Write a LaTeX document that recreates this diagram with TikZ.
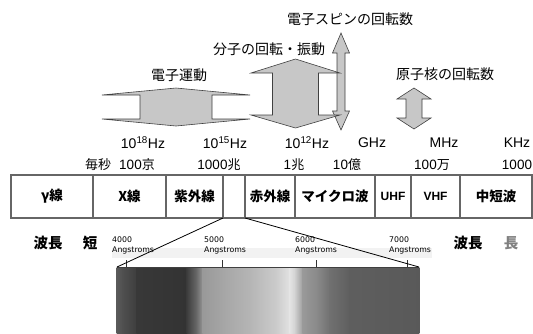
\documentclass[tikz,border=0pt]{standalone}
\usepackage{fontspec}
\setmainfont{Liberation Sans}
\newfontfamily\jp{Noto Sans CJK JP}
\newfontfamily\dv{DejaVu Sans}
\newcommand\vdarrow[7]{% cx, head half width, shaft half width, top apex, top base, bottom base, bottom apex
  \draw[arr] (#1,#4) -- ({#1+#2},#5) -- ({#1+#3},#5) -- ({#1+#3},#6) -- ({#1+#2},#6) -- (#1,#7)
    -- ({#1-#2},#6) -- ({#1-#3},#6) -- ({#1-#3},#5) -- ({#1-#2},#5) -- cycle;}
\newcommand\kj[1]{{\jp\fontsize{13}{14}\selectfont #1}}
\begin{document}
\begin{tikzpicture}[x=1pt,y=-1pt,
  arr/.style={fill=black!22, draw=black!75, line width=0.6pt, line join=miter},
  lab/.style={font=\jp\fontsize{14}{15}\selectfont, inner sep=0},
  wave/.style={font=\jp\bfseries\fontsize{14.5}{15}\selectfont, inner sep=0},
  freq/.style={font=\fontsize{14}{15}\selectfont, inner sep=0},
  cnt/.style={font=\fontsize{13.5}{14}\selectfont, inner sep=0},
  band/.style={font=\jp\bfseries\fontsize{13.5}{14}\selectfont, inner sep=0},
  ang/.style={font=\dv\fontsize{7.8}{10}\selectfont, align=left, inner sep=0, anchor=north west},
  boxline/.style={draw=black!60, line width=1.4pt},
  link/.style={draw=black, line width=0.8pt}]
\useasboundingbox (0,0) rectangle (533,333);

% arrows
\vdarrow{176}{74}{36}{88}{95}{119}{126}
\vdarrow{341}{8.5}{4}{33}{53}{111}{130}
\vdarrow{295.5}{44.5}{23}{59}{73}{115}{128}
\vdarrow{414}{17}{8}{88}{99}{118}{129}

% arrow labels
\node[lab] (spinlab) at (350,19) {電子スピンの回転数};
\node[lab] (mollab) at (269,49) {分子の回転・振動};
\node[lab] (eleclab) at (179,75) {電子運動};
\node[lab] (nuclab) at (445,74) {原子核の回転数};

% frequency rows
\node[freq] (f18) at (143,143) {10\textsuperscript{18}Hz};
\node[freq] (f15) at (225,143) {10\textsuperscript{15}Hz};
\node[freq] (f12) at (307,143) {10\textsuperscript{12}Hz};
\node[freq] (fG) at (372,143) {GHz};
\node[freq] (fM) at (444,143) {MHz};
\node[freq] (fK) at (517,143) {KHz};
\node[cnt] (persec) at (98,165) {\kj{毎秒}};
\node[cnt] (c18) at (137,165) {100\kj{京}};
\node[cnt] (c15) at (219,165) {1000\kj{兆}};
\node[cnt] (c12) at (294,165) {1\kj{兆}};
\node[cnt] (c9) at (347,165) {10\kj{億}};
\node[cnt] (c6) at (432,165) {100\kj{万}};
\node[cnt] (c3) at (517,165) {1000};

% band box
\draw[boxline] (11,175) rectangle (532,218);
\foreach \xx in {93,166,223,245,295,375,411,460}
  \draw[boxline] (\xx,175) -- (\xx,218);
\node[band] (gam) at (52,196.5) {γ線};
\node[band] (xray) at (129.5,196.5) {X線};
\node[band] (uv) at (194.5,196.5) {紫外線};
\node[band] (ir) at (270,196.5) {赤外線};
\node[band] (mw) at (335,196.5) {マイクロ波};
\node[band] (uhf) at (393,196.5) {\rmfamily\fontsize{12}{13}\selectfont UHF};
\node[band] (vhf) at (435.5,196.5) {\rmfamily\fontsize{12}{13}\selectfont VHF};
\node[band] (sw) at (496,196.5) {中短波};

% wavelength labels
\node[wave] (wl1) at (48,243) {波長};
\node[wave] (short) at (90,243) {短};
\node[wave] (wl2) at (468,243) {波長};
\node[wave, text=black!50] (long) at (511,243) {長};

% spectrum
\fill[black!5] (112,248) rectangle (432,258);
\foreach \xa/\xb/\ca/\cb in {
  117/123/black!65/black!69, 123/137/black!69/black!76, 137/187/black!78/black!80,
  187/197/black!76/black!58, 197/203/black!58/black!40, 203/223/black!40/black!35,
  223/250/black!35/black!29, 250/277/black!29/black!20, 277/290/black!20/black!11,
  290/295/black!11/black!18, 295/303/black!18/black!40, 303/317/black!40/black!46,
  317/330/black!46/black!56, 330/350/black!56/black!63, 350/419/black!63/black!65}
  \shade[left color=\ca, right color=\cb] (\xa-0.3,267) rectangle (\xb+0.3,333);
\draw[black!75, line width=0.6pt] (117,267) -- (419,267);
\foreach \xx in {126,222,316,407}
  \draw[black!80, line width=0.8pt] (\xx,260) -- (\xx,267);
\node[ang] (a4) at (112,237) {4000\\Angstroms};
\node[ang] (a5) at (204,237) {5000\\Angstroms};
\node[ang] (a6) at (295,237) {6000\\Angstroms};
\node[ang] (a7) at (389,237) {7000\\Angstroms};

% connectors from visible band to spectrum
\coordinate (visL) at (223,218);
\coordinate (visR) at (245,218);
\coordinate (specL) at (117,267);
\coordinate (specR) at (419,267);
\draw[link] (visL) -- (specL);
\draw[link] (visR) -- (specR);
\end{tikzpicture}
\end{document}
